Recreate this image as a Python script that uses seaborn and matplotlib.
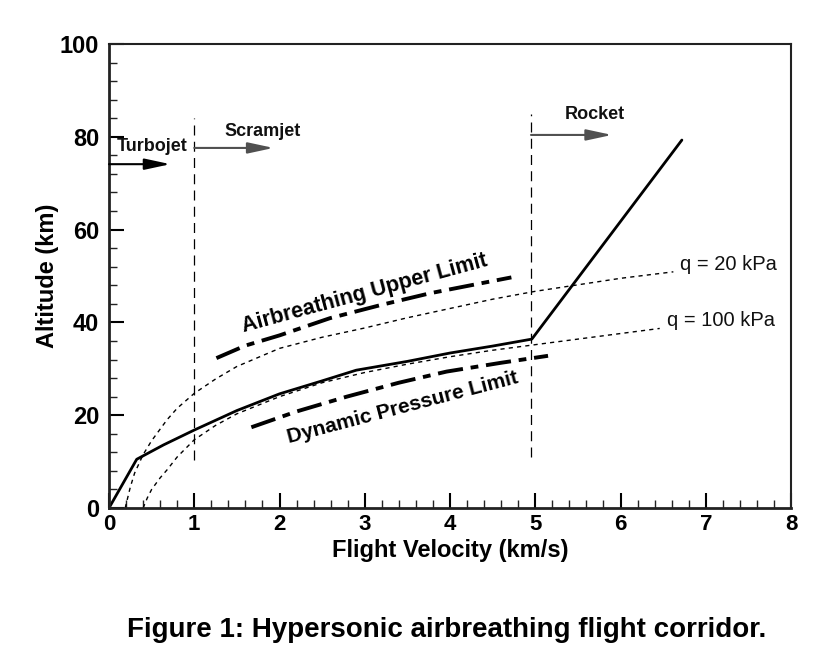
import numpy as np
import pandas as pd
import matplotlib
matplotlib.use("Agg")
import matplotlib.pyplot as plt
import seaborn as sns

# ---- data ----
corr_v = [0, 0.325, 0.64, 1.0, 1.5, 2.0, 2.5, 2.9, 3.5, 4.0, 4.5, 4.96, 6.72]
corr_h = [0, 10.5, 13.6, 16.8, 21.0, 24.6, 27.4, 29.7, 31.6, 33.4, 34.9, 36.4, 79.3]

q20_v = [0.19, 0.25, 0.3, 0.4, 0.5, 0.68, 0.8, 1.0, 1.25, 1.5, 2.0, 2.5, 3.0, 3.5, 4.0, 4.5, 5.0, 5.5, 6.0, 6.62]
q20_h = [0, 4.5, 7.5, 11.5, 14.5, 19.0, 21.5, 24.7, 27.8, 30.5, 34.4, 36.8, 38.8, 41.0, 43.0, 45.0, 46.7, 48.1, 49.5, 50.9]

q100_v = [0.4, 0.45, 0.5, 0.6, 0.68, 0.8, 1.0, 1.25, 1.5, 2.0, 2.5, 3.0, 3.5, 4.0, 4.5, 5.0, 5.5, 6.0, 6.46]
q100_h = [0, 2.2, 4.0, 6.5, 8.2, 11.0, 14.7, 17.8, 20.3, 24.0, 27.0, 29.2, 31.0, 32.6, 34.0, 35.2, 36.4, 37.6, 38.7]

upper_v = [1.26, 1.6, 2.0, 2.59, 3.2, 3.77, 4.3, 4.72]
upper_h = [32.3, 35.0, 37.2, 40.9, 43.8, 46.3, 48.2, 49.7]

lower_v = [1.67, 2.2, 2.79, 3.4, 3.96, 4.6, 5.15]
lower_h = [17.4, 20.8, 24.0, 27.0, 29.4, 31.3, 32.8]

boundary_v = [1.0, 4.95]
boundary_lo = [10.3, 11.0]
boundary_hi = [84.0, 85.0]

regimes = ["Turbojet", "Scramjet", "Rocket"]
regime_start = [0.0, 1.0, 4.95]
regime_end = [0.72, 1.93, 5.9]
regime_arrow_h = [74.1, 77.6, 80.4]
regime_text_x = [0.09, 1.36, 5.35]
regime_text_h = [78.0, 81.2, 84.7]
regime_colors = ["black", "#505050", "#505050"]

q_labels = ["q = 20 kPa", "q = 100 kPa"]
q_label_x = [6.70, 6.55]
q_label_h = [52.4, 40.5]

xticks = [0, 1, 2, 3, 4, 5, 6, 7, 8]
yticks = [0, 20, 40, 60, 80, 100]

# ---- figure ----
sns.set_theme(style="white")
plt.rcParams['font.family'] = ['Liberation Sans', 'DejaVu Sans']
plt.rcParams.update({"text.color": "black", "axes.labelcolor": "black",
                     "xtick.color": "black", "ytick.color": "black"})

fig = plt.figure(figsize=(8.22, 6.62), dpi=100)
ax = fig.add_axes([109/822, 1-508/662, (791-109)/822, (508-44)/662])

def line(v, h, **kw):
    df = pd.DataFrame({"v": v, "h": h})
    sns.lineplot(data=df, x="v", y="h", ax=ax, estimator=None, sort=False, **kw)

line(q20_v, q20_h, color="black", lw=1.0, linestyle=(0, (3, 3)))
line(q100_v, q100_h, color="black", lw=1.0, linestyle=(0, (3, 3)))
line(corr_v, corr_h, color="black", lw=2.0)
line(upper_v, upper_h, color="black", lw=2.8, linestyle=(0, (6.5, 2, 2, 2)))
line(lower_v, lower_h, color="black", lw=2.8, linestyle=(0, (6.5, 2, 2, 2)))

for v, lo, hi in zip(boundary_v, boundary_lo, boundary_hi):
    line([v, v], [lo, hi], color="black", lw=0.9, linestyle=(0, (8, 5)))

for name, s, e, h, tx, th, c in zip(regimes, regime_start, regime_end, regime_arrow_h,
                                     regime_text_x, regime_text_h, regime_colors):
    ax.annotate("", xy=(e, h), xytext=(s, h),
                arrowprops=dict(arrowstyle="-|>,head_length=1.3,head_width=0.28",
                                color=c, lw=1.5, shrinkA=0, shrinkB=0))
    ax.text(tx, th, name, fontsize=13, fontweight="bold", ha="left", va="center",
            color="#111111")

for lab, x, h in zip(q_labels, q_label_x, q_label_h):
    ax.text(x, h, lab, fontsize=14.5, ha="left", va="center", color="#111111")

ax.text(3.0, 46.1, "Airbreathing Upper Limit", fontsize=15.5, fontweight="bold",
        rotation=15.2, rotation_mode="anchor", ha="center", va="center")
ax.text(3.44, 21.6, "Dynamic Pressure Limit", fontsize=15, fontweight="bold",
        rotation=14.7, rotation_mode="anchor", ha="center", va="center")

ax.set_xlim(0, 8)
ax.set_ylim(0, 100)
ax.set_xticks(xticks)
ax.set_yticks(yticks)
ax.set_xticks(np.arange(0, 8.01, 0.2), minor=True)
ax.set_yticks(np.arange(0, 100.1, 4), minor=True)
ax.tick_params(axis="both", which="major", direction="in", length=11, width=1.5,
               labelsize=16, colors="black", top=False, right=False,
               bottom=True, left=True)
ax.tick_params(axis="both", which="minor", direction="in", length=6, width=1.0,
               top=False, right=False, bottom=True, left=True, colors="#222222")
ax.tick_params(axis="y", which="major", pad=7, labelsize=17)
ax.tick_params(axis="x", which="major", pad=4)
for lab in ax.get_xticklabels() + ax.get_yticklabels():
    lab.set_fontweight("bold")

for side in ["left", "bottom"]:
    ax.spines[side].set_linewidth(2.0)
    ax.spines[side].set_color("#222222")
for side in ["top", "right"]:
    ax.spines[side].set_linewidth(1.5)
    ax.spines[side].set_color("#222222")

ax.set_xlabel("Flight Velocity (km/s)", fontsize=17, fontweight="bold", labelpad=3)
ax.set_ylabel("Altitude (km)", fontsize=17, fontweight="bold", labelpad=1)

fig.text(447/822, 1-630/662, "Figure 1: Hypersonic airbreathing flight corridor.",
         fontsize=20, fontweight="bold", ha="center", va="center")

fig.savefig("out.png", dpi=100, facecolor="white")
